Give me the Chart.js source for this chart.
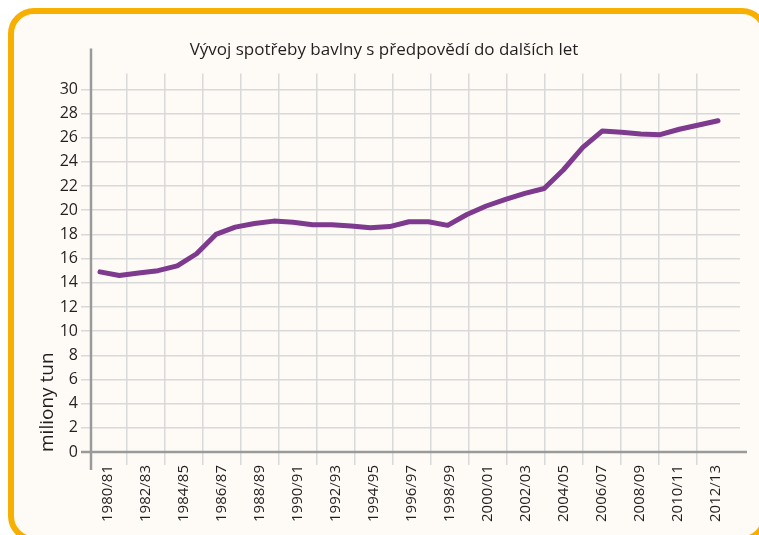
<!DOCTYPE html>
<html>
<head>
<meta charset="utf-8">
<script src="https://cdn.jsdelivr.net/npm/chart.js@4/dist/chart.umd.min.js"></script>
<style>
body { margin: 0; background: #fff; overflow: hidden; }
#frame {
position: absolute; left: 8px; top: 8px; width: 760px; height: 534px;
box-sizing: border-box; border: 6px solid #f7b000; border-radius: 26px; background: #fefbf6;
}
#chart { position: absolute; left: 0; top: 0; }
</style>
</head>
<body>
<div id="frame"></div>
<canvas id="chart" width="759" height="535"></canvas>
<script>
// Data
const periods = ['1980/81', '1981/82', '1982/83', '1983/84', '1984/85', '1985/86', '1986/87', '1987/88',
'1988/89', '1989/90', '1990/91', '1991/92', '1992/93', '1993/94', '1994/95', '1995/96', '1996/97',
'1997/98', '1998/99', '1999/00', '2000/01', '2001/02', '2002/03', '2003/04', '2004/05', '2005/06',
'2006/07', '2007/08', '2008/09', '2009/10', '2010/11', '2011/12', '2012/13'];
const consumption = [14.9, 14.6, 14.8, 15.0, 15.4, 16.4, 18.0, 18.6, 18.9, 19.1, 19.0, 18.8, 18.8,
18.7, 18.55, 18.65, 19.05, 19.05, 18.75, 19.65, 20.35, 20.9, 21.4, 21.8, 23.35, 25.2, 26.55,
26.45, 26.3, 26.25, 26.7, 27.05, 27.4];
const yTicks = [0, 2, 4, 6, 8, 10, 12, 14, 16, 18, 20, 22, 24, 26, 28, 30];

const gridColor = '#d9d9d9';
const axisColor = '#9a9a9a';
const textColor = '#231f20';
const font = 'Open Sans';

// Axis lines run a bit past the plot area like in the original
const axisLines = {
id: 'axisLines',
beforeDatasetsDraw(chart) {
const c = chart.ctx;
const area = chart.chartArea;
const y0 = chart.scales.y.getPixelForValue(0);
c.save();
c.strokeStyle = axisColor;
c.lineWidth = 2.5;
c.beginPath();
c.moveTo(area.left, area.top - 25);
c.lineTo(area.left, y0 + 18);
c.moveTo(area.left - 10, y0);
c.lineTo(area.right + 7, y0);
c.stroke();
c.restore();
}
};

const ctx = document.getElementById('chart').getContext('2d');
new Chart(ctx, {
type: 'line',
data: {
datasets: [{
data: consumption.map((v, i) => ({ x: i, y: v })),
xAxisID: 'xd',
borderColor: '#7d3a8e',
borderWidth: 5,
borderJoinStyle: 'round',
borderCapStyle: 'round',
pointRadius: 0,
tension: 0
}]
},
options: {
responsive: false,
animation: false,
layout: { padding: { left: 28, right: 19, top: 0, bottom: 0 } },
plugins: {
legend: { display: false },
tooltip: { enabled: false },
title: {
display: true,
text: 'Vývoj spotřeby bavlny s předpovědí do dalších let',
color: textColor,
font: { family: font, size: 17, weight: 'normal' },
padding: { top: 40, bottom: 13 }
}
},
scales: {
x: {
type: 'linear',
min: -0.895,
max: 33.26,
afterBuildTicks: (scale) => {
scale.ticks = periods.map((p, i) => ({ value: i }));
},
afterFit: (scale) => { scale.height = 83; },
grid: {
color: (c) => (c.tick && c.tick.value % 2 === 1 ? gridColor : 'rgba(0,0,0,0)'),
lineWidth: 1.5,
tickLength: 13,
drawOnChartArea: true
},
border: { display: false },
ticks: {
autoSkip: false,
minRotation: 90,
maxRotation: 90,
padding: 0,
color: textColor,
font: { family: font, size: 15 },
callback: (value) => (value % 2 === 0 ? periods[value] : '')
}
},
xd: {
type: 'linear',
display: false,
min: -0.466,
max: 33.14
},
y: {
min: 0,
max: 31.32,
afterBuildTicks: (scale) => {
scale.ticks = yTicks.map((v) => ({ value: v }));
},
afterFit: (scale) => { scale.width = 63; },
grid: { color: gridColor, lineWidth: 1.5, tickLength: 10 },
border: { display: false },
ticks: {
padding: 3,
color: textColor,
font: { family: font, size: 16 }
},
title: {
display: true,
text: 'miliony tun',
align: 'start',
color: textColor,
font: { family: font, size: 19 },
padding: { top: 8, bottom: 0 }
}
}
}
},
plugins: [axisLines]
});
</script>
</body>
</html>
